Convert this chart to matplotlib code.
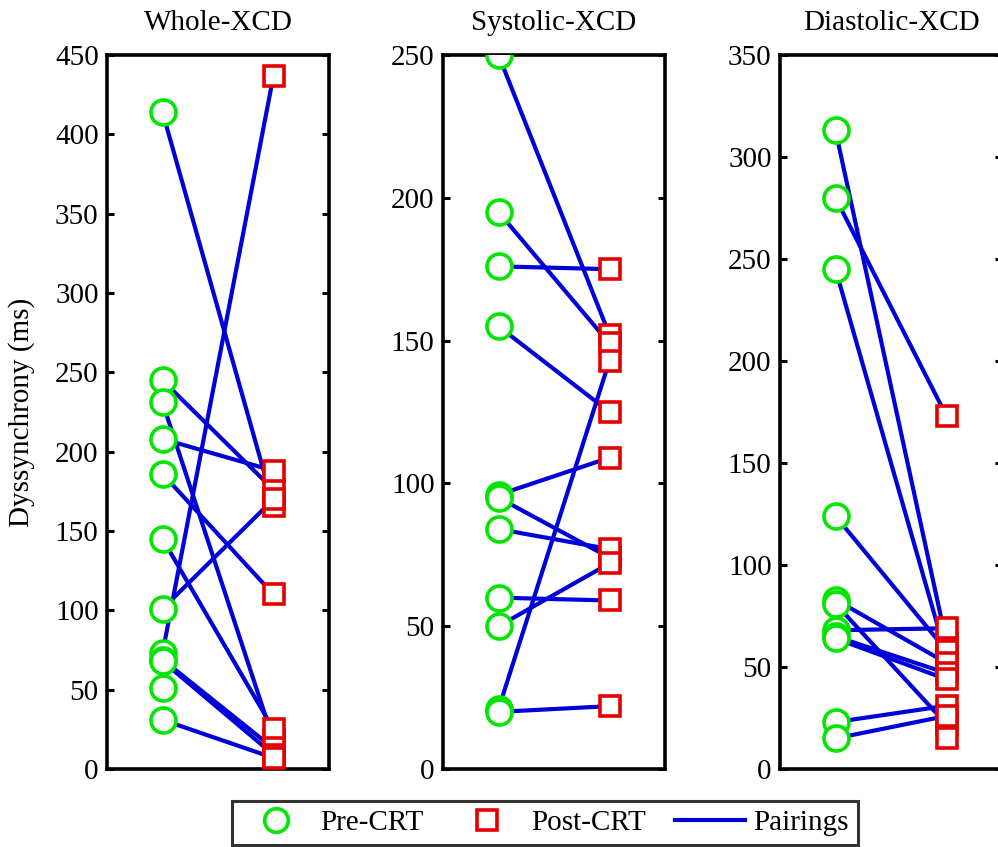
import numpy as np
import matplotlib.pyplot as plt
from matplotlib.lines import Line2D

plt.rcParams['font.family'] = ['Liberation Serif', 'DejaVu Serif']

titles = ['Whole-XCD', 'Systolic-XCD', 'Diastolic-XCD']

# dyssynchrony (ms) for each patient, before and after CRT
pre_whole = [414, 245, 231, 208, 186, 145, 101, 73, 69, 68, 51, 31]
post_whole = [166, 176, 18, 188, 110, 25, 170, 437, 13, 9, np.nan, 7]

pre_sys = [250, 195, 176, 155, 96, 95, 84, 60, 50, 21, 20]
post_sys = [152, 149, 175, 125, 109, 74, 77, 59, 72, 143, 22]

pre_dia = [313, 280, 245, 124, 83, 81, 68, 65, 64, 23, 15, np.nan]
post_dia = [62, 173, 55, 58, 52, 22, 69, 47, 44, 31, 26, 15]

ymax = [450, 250, 350]

pre = [pre_whole, pre_sys, pre_dia]
post = [post_whole, post_sys, post_dia]

green = (0.0, 0.9, 0.0)
red = (0.9, 0.0, 0.0)
blue = (0.0, 0.0, 0.85)

fig = plt.figure(figsize=(9.98, 8.47), dpi=100)
lefts = [107, 443, 780]
fs = 21

for i in range(3):
    ax = fig.add_axes([lefts[i] / 998, 78 / 847, 222 / 998, 714 / 847])
    a = np.array(pre[i], dtype=float)
    b = np.array(post[i], dtype=float)
    for j in range(len(a)):
        if not (np.isnan(a[j]) or np.isnan(b[j])):
            ax.plot([1, 2], [a[j], b[j]], color=blue, lw=3, zorder=1)
    ax.plot(np.ones(len(a)), a, 'o', ms=18, mfc='white', mec=green,
            mew=2.6, ls='none', zorder=3)
    ax.plot(2 * np.ones(len(b)), b, 's', ms=14, mfc='white', mec=red,
            mew=2.6, ls='none', zorder=3)
    ax.set_xlim(0.5, 2.5)
    ax.set_ylim(0, ymax[i])
    ax.set_yticks(np.arange(0, ymax[i] + 1, 50))
    ax.set_xticks([])
    ax.tick_params(axis='y', direction='in', length=5, width=2.2,
                   left=True, right=True, labelsize=fs, pad=6)
    for s in ax.spines.values():
        s.set_linewidth(2.6)
    ax.set_title(titles[i], fontsize=fs, pad=18)
    if i == 0:
        ax.set_ylabel('Dyssynchrony (ms)', fontsize=fs, labelpad=14)

handles = [
    Line2D([], [], marker='o', ls='none', ms=17, mfc='white', mec=green, mew=2.6),
    Line2D([], [], marker='s', ls='none', ms=14, mfc='white', mec=red, mew=2.6),
    Line2D([], [], color=blue, lw=3),
]
leg = fig.legend(handles, ['Pre-CRT', 'Post-CRT', 'Pairings'], ncol=3,
                 loc='center', bbox_to_anchor=(545 / 998, 1 - 823 / 847),
                 fontsize=fs, frameon=True, fancybox=False, edgecolor='black',
                 handlelength=2.4, columnspacing=1.0, handletextpad=0.3,
                 borderpad=0.3)
leg.get_frame().set_linewidth(2.2)

fig.savefig('out.png', dpi=100)
